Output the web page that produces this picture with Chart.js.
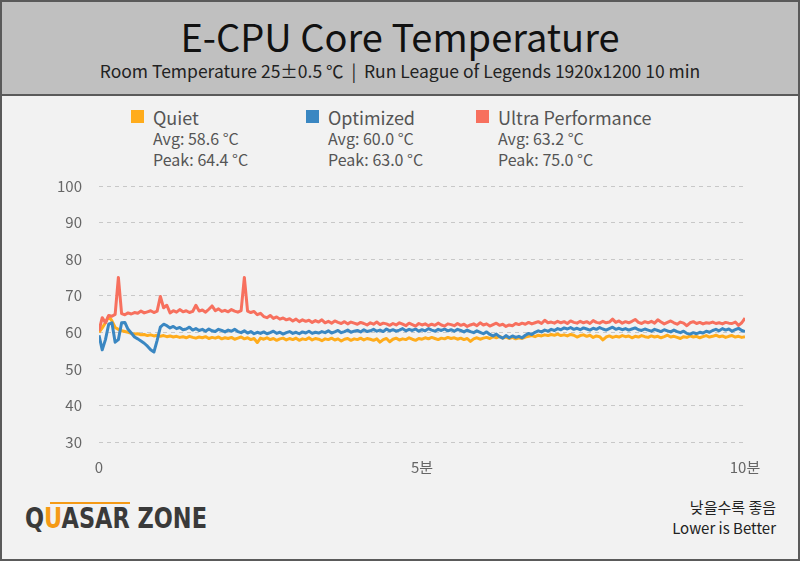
<!DOCTYPE html>
<html>
<head>
<meta charset="utf-8">
<script src="https://cdn.jsdelivr.net/npm/chart.js@4"></script>
<style>
html,body{margin:0;padding:0;}
body{width:800px;height:561px;background:#f2f2f2;position:relative;overflow:hidden;font-family:"Noto Sans CJK KR","Noto Sans",sans-serif;}
#frame{position:absolute;left:0;top:0;width:796px;height:557px;border:2px solid #5a5a5a;}
#head{position:absolute;left:0;top:0;width:800px;height:94px;background:#c0c0c0;border-bottom:2px solid #5a5a5a;}
#title{position:absolute;left:0;width:800px;top:12px;text-align:center;font-size:38px;color:#111;line-height:48px;}
#sub{position:absolute;left:0;width:800px;top:58px;text-align:center;font-size:17.5px;color:#222;line-height:26px;}
.lg{position:absolute;top:104px;color:#555;}
.lg .sq{position:absolute;left:0;top:6px;width:13px;height:13px;}
.lg .nm{position:absolute;left:22px;top:0;font-size:18px;line-height:26px;white-space:nowrap;}
.lg .st{position:absolute;left:22px;top:24px;font-size:16px;line-height:21px;white-space:nowrap;}
#logo{position:absolute;left:25px;top:500px;font-family:"DejaVu Sans Condensed","DejaVu Sans",sans-serif;font-weight:bold;font-size:29px;color:#3a3a3a;letter-spacing:0px;line-height:36px;transform:scaleX(0.86);transform-origin:left;}
#logo .u{color:#f59a16;}
#swoosh{position:absolute;left:50px;top:502px;width:80px;height:2px;background:#f59a16;}
#note{position:absolute;right:24px;top:496px;text-align:right;font-size:15px;color:#222;line-height:21px;}
canvas{position:absolute;left:0;top:0;}
</style>
</head>
<body>
<div id="head">
<div id="title">E-CPU Core Temperature</div>
<div id="sub">Room Temperature 25±0.5 ℃ &nbsp;|&nbsp; Run League of Legends 1920x1200 10 min</div>
</div>
<div id="frame"></div>
<div id="legend"></div>
<div id="swoosh"></div>
<div id="logo">Q<span class="u">U</span>ASAR ZONE</div>
<div id="note">낮을수록 좋음<br>Lower is Better</div>
<canvas id="chart" width="800" height="561"></canvas>
<script>
// 3 s per sample, 0 .. 600 s
const seriesNames=["Quiet","Optimized","Ultra Performance"];
const seriesColors=["#ffac1c","#3a87c2","#f7705e"];
const avgLabels=["Avg: 58.6 °C","Avg: 60.0 °C","Avg: 63.2 °C"];
const peakLabels=["Peak: 64.4 °C","Peak: 63.0 °C","Peak: 75.0 °C"];
const legendX=[131,306,476];
const yTicks=[30,40,50,60,70,80,90,100];
const xTicks=[0,300,600];
const xTickLabels=["0","5분","10분"];

const quiet=[
60.0,61.2,62.6,64.4,63.1,61.3,60.8,60.4,60.2,60.0,
59.7,59.5,59.6,59.3,59.4,59.1,59.3,59.0,59.2,58.9,
59.1,58.8,59.0,58.7,58.9,58.6,58.8,58.5,58.9,58.6,
58.4,58.7,58.5,58.8,58.3,58.6,58.4,58.7,58.2,58.5,
58.3,58.6,58.1,58.4,58.7,58.2,58.5,58.0,58.3,57.2,
58.4,58.1,58.5,58.0,58.3,57.8,58.2,58.4,57.9,58.3,
58.0,58.4,57.8,58.2,58.0,58.5,57.9,58.3,58.1,57.7,
58.2,58.0,58.4,57.9,58.2,57.6,58.1,58.3,57.8,58.2,
58.0,58.4,57.9,58.3,58.1,57.8,58.2,57.3,58.0,58.3,
57.4,58.1,58.4,57.9,58.2,58.0,58.5,58.1,57.8,58.3,
58.1,58.5,58.2,58.6,58.3,58.0,58.4,58.2,58.6,58.3,
58.5,58.1,58.4,58.0,58.3,57.5,58.2,58.5,58.1,58.4,
58.6,58.3,58.8,58.5,58.9,58.4,58.7,58.3,58.6,58.2,
58.5,58.3,58.7,58.9,59.1,58.8,59.2,59.0,59.3,59.1,
59.4,59.2,59.5,59.1,59.3,59.0,59.4,59.2,58.7,59.1,
59.3,58.9,59.2,58.6,59.0,58.8,57.9,58.7,59.0,58.6,
58.9,58.7,59.1,58.8,59.0,58.5,58.9,58.7,59.1,58.8,
58.6,59.0,58.7,58.9,58.5,58.8,59.2,58.7,58.9,58.6,
58.3,58.8,58.6,59.0,58.7,58.9,58.5,58.8,59.1,58.7,
58.9,59.2,58.8,59.0,58.6,58.9,59.1,58.7,58.9,58.6,
58.8];

const optimized=[
59.2,55.2,58.0,62.2,62.6,57.3,58.0,62.6,62.7,60.8,
59.8,58.7,58.2,57.6,57.0,56.2,55.2,54.6,57.8,61.4,
62.2,61.8,61.2,61.6,61.0,61.3,60.7,60.9,61.4,60.6,
61.0,60.5,60.8,60.3,60.9,60.4,60.2,60.8,60.5,60.1,
60.6,60.3,60.8,60.2,59.9,60.4,59.8,60.2,59.6,60.0,
59.7,60.1,59.6,59.9,60.3,59.7,60.0,59.5,59.9,60.2,
59.7,60.0,59.6,60.1,59.8,60.3,59.7,60.0,59.8,60.2,
59.9,60.4,59.8,60.1,60.5,59.9,60.2,60.6,60.0,60.3,
60.5,60.1,60.7,60.2,60.4,60.8,60.3,60.6,60.2,60.9,
60.4,60.7,60.3,60.6,61.0,60.4,60.8,60.5,60.9,60.3,
60.7,60.4,61.0,60.6,60.3,60.8,60.5,60.9,60.4,60.7,
60.3,60.8,60.5,60.1,60.6,60.2,59.9,60.4,60.0,59.6,
60.1,59.4,59.0,59.5,58.8,58.4,59.1,58.5,59.0,58.6,
58.9,58.5,59.2,59.7,59.4,60.0,60.4,60.1,60.6,60.3,
60.8,60.5,61.0,60.7,61.2,60.9,61.3,60.8,61.1,60.7,
61.2,60.9,60.6,61.1,60.8,61.3,60.9,60.6,61.0,61.4,
60.8,61.1,60.7,61.0,60.6,60.9,61.2,60.7,60.5,60.9,
60.6,60.3,60.8,60.5,60.2,60.7,60.4,60.1,60.6,60.2,
59.9,60.3,59.7,59.5,59.9,59.6,60.0,59.8,60.3,60.0,
60.5,60.8,60.4,61.0,60.6,60.9,60.3,60.7,61.1,60.5,
60.2];

const ultra=[
60.4,64.0,62.6,64.6,64.4,64.9,75.0,65.1,64.8,65.3,
65.0,65.4,65.2,65.8,65.3,65.6,65.9,65.4,65.8,69.8,
66.7,67.4,65.3,65.9,65.5,66.2,65.6,65.9,65.4,65.7,
67.4,65.8,66.1,65.5,66.3,67.2,65.9,66.4,65.7,66.0,
65.6,66.2,65.8,65.5,65.9,75.0,65.8,65.4,65.7,64.8,
65.2,64.3,64.0,64.6,63.8,64.2,63.6,63.9,63.4,63.7,
63.1,63.6,62.9,63.4,63.0,63.3,62.7,63.2,62.8,63.4,
62.6,63.0,62.5,63.1,62.7,62.4,62.9,62.3,62.8,62.5,
62.2,62.7,62.4,62.0,62.6,62.2,62.8,62.1,62.5,62.3,
61.9,62.4,62.0,62.6,62.2,61.8,62.5,62.1,61.7,62.4,
62.0,62.3,61.8,62.2,61.9,62.5,62.0,61.7,62.3,62.1,
61.8,62.4,61.9,62.2,61.6,62.0,62.3,61.8,62.6,62.0,
62.3,61.7,62.1,62.5,61.9,62.2,61.6,62.0,61.8,62.4,
62.1,62.5,62.2,62.7,62.3,62.6,62.9,62.4,63.3,62.6,
62.8,62.5,63.0,62.6,62.9,62.4,63.1,62.7,62.5,63.0,
62.6,62.9,62.4,63.2,62.7,62.5,63.0,62.6,62.8,63.6,
62.7,63.1,62.5,62.9,62.6,63.0,63.5,62.7,62.4,62.9,
62.6,63.0,62.5,63.4,62.8,62.3,62.7,63.1,62.6,62.2,
62.8,62.5,61.8,62.6,62.9,62.4,62.7,62.3,62.6,62.5,
62.8,62.4,62.6,62.3,62.7,62.5,62.4,62.8,61.9,62.6,
63.9];

const step=3;
function toPoints(arr){return arr.map((v,i)=>({x:i*step,y:v}));}

// legend
const legend=document.getElementById("legend");
seriesNames.forEach((n,i)=>{
let d=document.createElement("div");
d.className="lg";
d.style.left=legendX[i]+"px";
d.innerHTML='<div class="sq" style="background:'+seriesColors[i]+'"></div><div class="nm">'+n+'</div><div class="st">'+avgLabels[i]+'<br>'+peakLabels[i]+'</div>';
legend.appendChild(d);
});

const allSeries=[quiet,optimized,ultra];
const drawOrder=[3,2,1];

new Chart(document.getElementById("chart"),{
type:"line",
data:{
datasets:allSeries.map((s,i)=>({
label:seriesNames[i],
data:toPoints(s),
borderColor:seriesColors[i],
borderWidth:3,
pointRadius:0,
tension:0,
borderJoinStyle:"round",
order:drawOrder[i]
}))
},
options:{
responsive:false,
animation:false,
devicePixelRatio:1,
layout:{padding:{left:0,top:186,right:55,bottom:0}},
plugins:{legend:{display:false},tooltip:{enabled:false}},
scales:{
x:{
type:"linear",min:0,max:600,
afterFit:s=>{s.height=119;},
afterBuildTicks:s=>{s.ticks=xTicks.map(v=>({value:v}));},
grid:{display:false},
border:{display:false},
ticks:{color:"#666",font:{size:15,family:"Noto Sans CJK KR"},padding:8,maxRotation:0,
callback:(v)=>xTickLabels[xTicks.indexOf(v)]}
},
y:{
min:30,max:100,
afterFit:s=>{s.width=99;},
afterBuildTicks:s=>{s.ticks=yTicks.map(v=>({value:v}));},
grid:{color:"#c8c8c8",lineWidth:1,drawTicks:false},
border:{display:false,dash:[4,4]},
ticks:{color:"#666",font:{size:15,family:"Noto Sans CJK KR"},padding:17}
}
}
}
});
</script>
</body>
</html>
